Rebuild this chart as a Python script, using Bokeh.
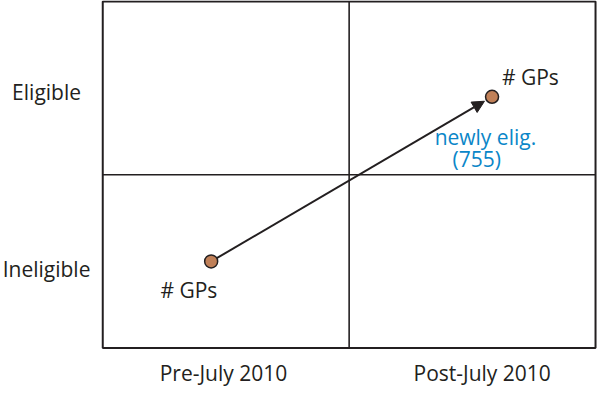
from bokeh.plotting import figure
from bokeh.models import Range1d, Arrow, NormalHead
from bokeh.core.properties import value
from bokeh.embed import file_html
from bokeh.resources import INLINE

# ---- data ----
periods = ["Pre-July 2010", "Post-July 2010"]
statuses = ["Ineligible", "Eligible"]
gp_period = [0.44, 1.58]      # position of the GP group along the period axis
gp_status = [0.50, 1.45]      # position along the eligibility axis
point_labels = ["# GPs", "# GPs"]
newly_eligible = 755
flow_labels = ["newly elig.", "(%d)" % newly_eligible]

# ---- layout (box units; box spans 0..2 in both directions) ----
status_label_x = -0.228
status_label_y = [0.415, 1.435]          # baselines
period_label_x = [0.49, 1.54]
period_label_y = -0.185
point_label_dx = [-0.206, 0.04]
point_label_dy = [-0.205, 0.072]
flow_label_x = [1.553, 1.518]
flow_label_y = [1.1745, 1.047]

# ---- styling ----
FONT = value("Open Sans")
FS = "21px"
DARK = "#231f20"
BLUE = "#0a86c8"
BROWN = "#c08058"
TXT = 0.043   # baseline compensation (data units)

W, H = 597, 386
p = figure(width=W, height=H, output_backend="svg", toolbar_location=None,
           x_range=Range1d(-0.415, 2.008), y_range=Range1d(-0.2216, 2.0055),
           x_axis_location=None, y_axis_location=None,
           min_border=0, outline_line_color=None)
p.grid.visible = False

n = len(periods)
m = len(statuses)
# outer box
p.quad(left=[0], right=[n], bottom=[0], top=[m],
       fill_color=None, line_color=DARK, line_width=2)
# dividers
p.segment(x0=[1, 0], y0=[0, 1], x1=[1, n], y1=[m, 1],
          line_color=DARK, line_width=1.6)

# axis-like labels
p.text(x=[status_label_x] * m, y=[v + TXT for v in status_label_y],
       text=statuses, text_align="center", text_baseline="alphabetic",
       text_font=FONT, text_font_size=FS, text_color=DARK)
p.text(x=period_label_x, y=[period_label_y + TXT] * n, text=periods,
       text_align="center", text_baseline="alphabetic",
       text_font=FONT, text_font_size=FS, text_color=DARK)

# arrow
frac = 0.027
x_end = gp_period[1] - (gp_period[1] - gp_period[0]) * frac
y_end = gp_status[1] - (gp_status[1] - gp_status[0]) * frac
arr = Arrow(end=NormalHead(size=12, fill_color=DARK, line_color=DARK, line_width=1),
            x_start=gp_period[0], y_start=gp_status[0], x_end=x_end, y_end=y_end,
            line_color=DARK, line_width=2, level="underlay")
p.add_layout(arr)

# points
p.scatter(gp_period, gp_status, size=13, fill_color=BROWN,
          line_color=DARK, line_width=1.5)

# point labels
p.text(x=[gp_period[i] + point_label_dx[i] for i in range(2)],
       y=[gp_status[i] + point_label_dy[i] + TXT for i in range(2)],
       text=point_labels, text_align="left", text_baseline="alphabetic",
       text_font=FONT, text_font_size=FS, text_color=DARK)

# flow label
p.text(x=flow_label_x, y=[v + TXT for v in flow_label_y], text=flow_labels,
       text_align="center", text_baseline="alphabetic",
       text_font=FONT, text_font_size=FS, text_color=BLUE)

open("out.html", "w").write(file_html(p, INLINE))
